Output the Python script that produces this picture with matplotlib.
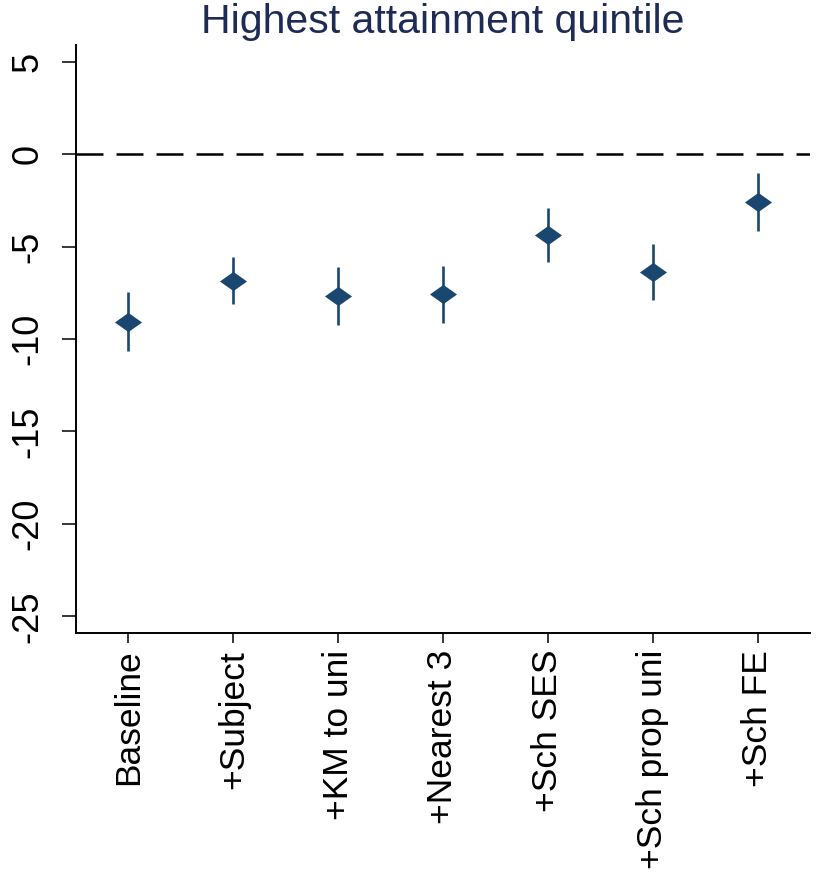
import matplotlib
matplotlib.use("Agg")
import matplotlib.pyplot as plt
import numpy as np

categories = ["Baseline", "+Subject", "+KM to uni", "+Nearest 3", "+Sch SES", "+Sch prop uni", "+Sch FE"]
estimate = [-9.06, -6.85, -7.68, -7.59, -4.40, -6.38, -2.61]
ci_upper = [-7.44, -5.58, -6.11, -6.07, -2.90, -4.85, -1.04]
ci_lower = [-10.65, -8.13, -9.26, -9.14, -5.86, -7.91, -4.16]
yticks = [5, 0, -5, -10, -15, -20, -25]
title = "Highest attainment quintile"

navy = "#1a476f"
plt.rcParams["font.family"] = ["Liberation Sans", "DejaVu Sans"]

fig = plt.figure(figsize=(8.2, 8.72), dpi=100)
ax = fig.add_axes([76/820, (872-633)/872, (810-76)/820, (633-45)/872])

x = np.arange(1, len(categories) + 1)
est = np.array(estimate)
lo = np.array(ci_lower)
hi = np.array(ci_upper)

ax.axhline(0, color="black", lw=1.8, dashes=(10.8, 5.2), zorder=1)
ax.vlines(x, lo, hi, color=navy, lw=1.9, zorder=2)
diamond = [(-1, 0), (0, 0.71), (1, 0), (0, -0.71), (-1, 0)]
ax.plot(x, est, linestyle="none", marker=diamond, markersize=19.5,
        color=navy, markeredgewidth=0, zorder=3)

ax.set_xlim(0.5, 7.5)
ax.set_ylim(-25.9, 5.9)
ax.set_xticks(x)
ax.set_xticklabels(categories, rotation=90, fontsize=25.5, va="top", ha="center")
ax.set_yticks(yticks)
ax.set_yticklabels([str(v) for v in yticks], rotation=90, fontsize=26, va="center")

for s in ["top", "right"]:
    ax.spines[s].set_visible(False)
for s in ["left", "bottom"]:
    ax.spines[s].set_linewidth(1.4)
ax.tick_params(axis="y", length=10, width=1.1, pad=12)
ax.tick_params(axis="x", length=7, width=1.1, pad=5)

fig.text((76+810)/2/820, 1 - 33/872, title, ha="center", va="baseline",
         fontsize=29.5, color="#1e2b56")

fig.savefig("out.png", dpi=100, facecolor="white")
